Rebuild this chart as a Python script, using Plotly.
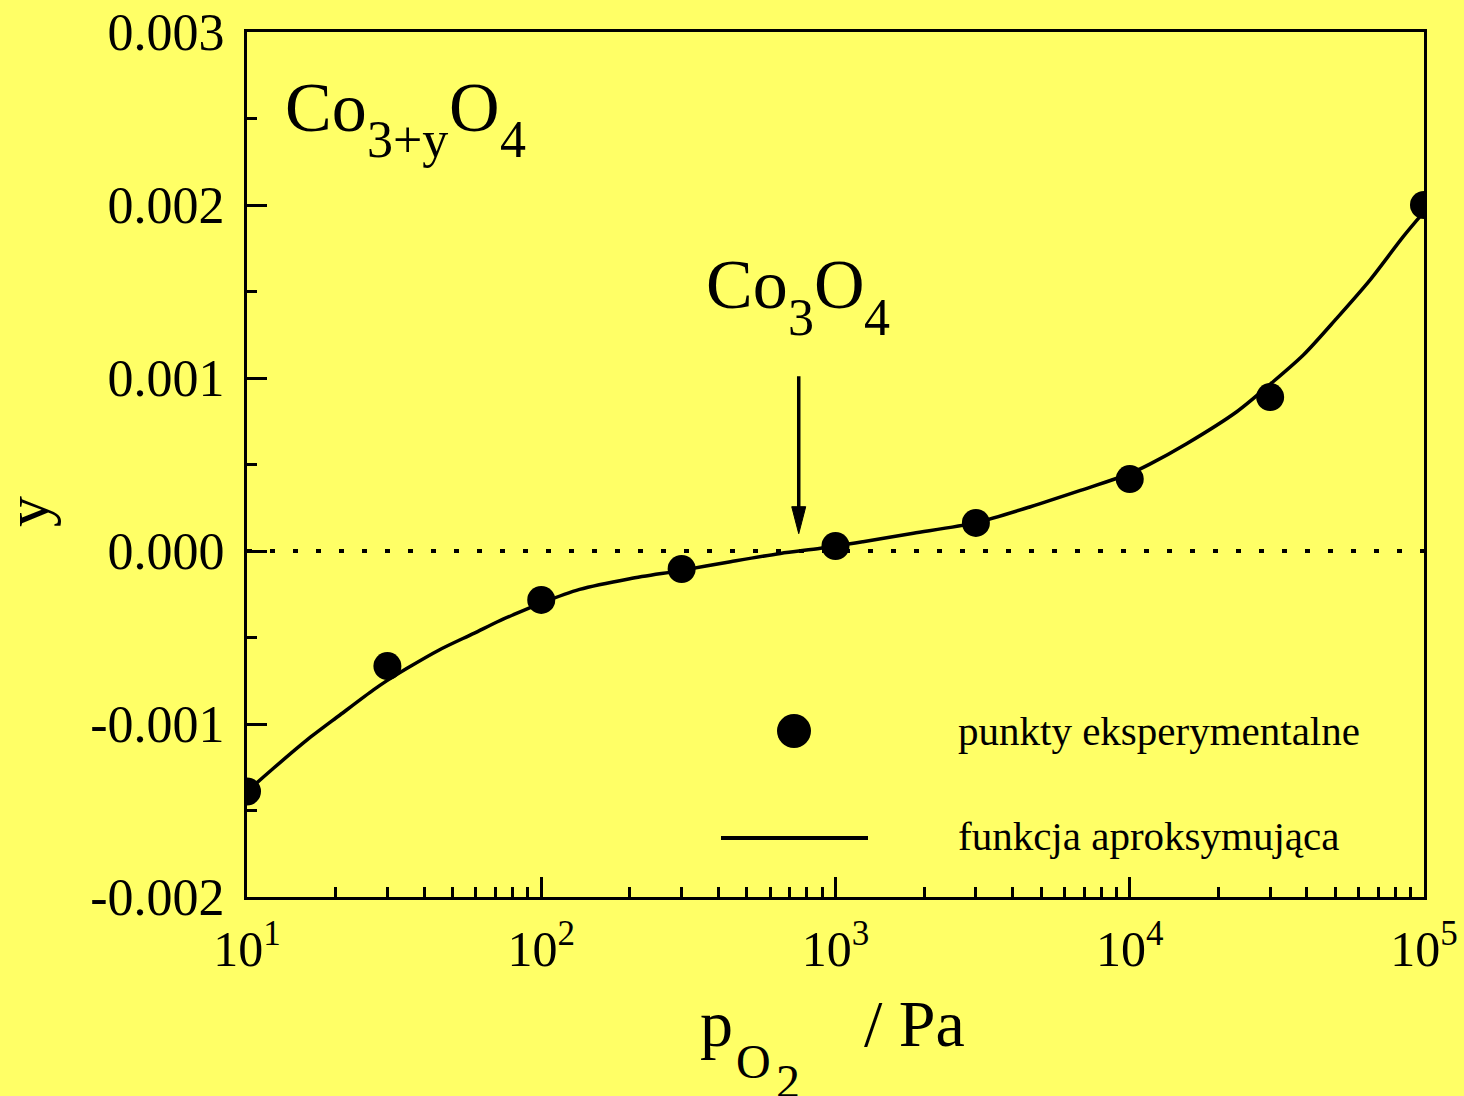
import numpy as np
import plotly.graph_objects as go

# Measured oxygen non-stoichiometry of Co3+yO4 vs. oxygen partial pressure
p_exp = [10, 30, 100, 300, 1000, 3000, 10000, 30000, 100000]
y_exp = [-0.00139, -0.000665, -0.000283, -0.000104, 0.000029,
         0.000162, 0.000416, 0.00089, 0.002]

# Fitted (approximating) function, sampled along the curve
p_fit = [10, 10.6, 12.3, 16, 20.7, 26.9, 30, 35, 45, 59, 71, 80, 100, 135,
         200, 300, 440, 650, 890, 1240, 1840, 3000, 4600, 6800, 10000, 11700,
         15600, 23100, 30000, 38900, 50500, 65500, 85000, 100000]
y_fit = [-0.001393, -0.001353, -0.001256, -0.001092, -0.000948, -0.000803,
         -0.000748, -0.000678, -0.000572, -0.000476, -0.000409, -0.000370,
         -0.000301, -0.000222, -0.000160, -0.000112, -0.000062, -0.000014,
         0.000016, 0.000054, 0.000102, 0.000164, 0.000256, 0.000350,
         0.000447, 0.000502, 0.000620, 0.000805, 0.000964, 0.001133,
         0.001345, 0.001566, 0.001817, 0.001960]

# Axis ticks
x_tickvals = [10, 100, 1000, 10000, 100000]
x_ticktext = ["10<sup>1</sup>", "10<sup>2</sup>", "10<sup>3</sup>",
              "10<sup>4</sup>", "10<sup>5</sup>"]
x_minor = [m * 10 ** e for e in range(1, 5) for m in range(2, 10)]
y_tickvals = [-0.002, -0.001, 0.0, 0.001, 0.002, 0.003]
y_ticktext = ["-0.002", "-0.001", "0.000", "0.001", "0.002", "0.003"]
y_minor = [-0.0015, -0.0005, 0.0005, 0.0015, 0.0025]

X_RANGE = [1, 5]          # log10 of pressure
Y_RANGE = [-0.002, 0.003]

# Stoichiometric point marked by the arrow
p_stoich = 750
arrow_top, arrow_tip = 0.00101, 0.0001

BG = "#FFFF66"
FONT = "Liberation Serif"

W, H = 1464, 1096
L, R, T, B = 247, 40, 32, 199
PW, PH = W - L - R, H - T - B


def px(x):
    """pixel column -> paper x"""
    return (x - L) / PW


def py(y):
    """pixel row -> paper y"""
    return (H - B - y) / PH


def data_to_paper_x(p):
    return (np.log10(p) - X_RANGE[0]) / (X_RANGE[1] - X_RANGE[0])


def data_to_paper_y(v):
    return (v - Y_RANGE[0]) / (Y_RANGE[1] - Y_RANGE[0])


fig = go.Figure()

fig.add_trace(go.Scatter(
    x=p_fit, y=y_fit, mode="lines",
    line=dict(color="black", width=3.5, shape="spline", smoothing=0.8),
    showlegend=False, hoverinfo="skip"))

fig.add_trace(go.Scatter(
    x=p_exp, y=y_exp, mode="markers",
    marker=dict(color="black", size=28, line=dict(width=0)),
    showlegend=False, cliponaxis=True))

# zero reference line
fig.add_shape(type="line", xref="paper", yref="y", x0=0, x1=1, y0=0, y1=0,
              line=dict(color="black", width=4, dash="5px,18px"))

# arrow pointing at the stoichiometric composition
ax_p = data_to_paper_x(p_stoich)
tip_y = data_to_paper_y(arrow_tip)
top_y = data_to_paper_y(arrow_top)
head_len = 27 / PH
head_hw = 7 / PW
fig.add_shape(type="line", xref="paper", yref="paper",
              x0=ax_p, x1=ax_p, y0=top_y, y1=tip_y + head_len * 0.8,
              line=dict(color="black", width=3.5))
fig.add_shape(type="path", xref="paper", yref="paper",
              path=(f"M {ax_p - head_hw},{tip_y + head_len} "
                    f"L {ax_p + head_hw},{tip_y + head_len} "
                    f"L {ax_p},{tip_y} Z"),
              fillcolor="black", line=dict(color="black", width=1))


def label(x, y, text, size, **kw):
    return dict(x=px(x), y=py(y), xref="paper", yref="paper", xanchor="left",
                yanchor="middle", showarrow=False, text=text,
                font=dict(family=FONT, size=size, color="black"), **kw)


annotations = [
    # Co3+yO4
    label(283, 108, "Co", 70),
    label(365, 139, "3+y", 52),
    label(447, 108, "O", 70),
    label(498, 139, "4", 52),
    # Co3O4
    label(704, 284, "Co", 70),
    label(786, 317, "3", 52),
    label(812, 284, "O", 70),
    label(862, 317, "4", 52),
    # legend texts
    label(956, 731, "punkty eksperymentalne", 41),
    label(956, 836, "funkcja aproksymująca", 41),
    # axis titles
    dict(x=px(27), y=py(512), xref="paper", yref="paper", xanchor="center",
         yanchor="middle", showarrow=False, text="y", textangle=-90,
         font=dict(family=FONT, size=62, color="black")),
    label(698, 1023, "p", 66),
    label(734, 1061, "O", 48),
    label(774, 1081, "2", 48),
    label(862, 1023, "/ Pa", 66),
]

# legend symbols
shapes = [
    dict(type="circle", xref="paper", yref="paper",
         x0=px(777), x1=px(811), y0=py(748), y1=py(714),
         fillcolor="black", line=dict(width=0)),
    dict(type="line", xref="paper", yref="paper",
         x0=px(721), x1=px(868), y0=py(838), y1=py(838),
         line=dict(color="black", width=4)),
]
for s in shapes:
    fig.add_shape(**s)

fig.update_layout(
    width=W, height=H,
    margin=dict(l=L, r=R, t=T, b=B, autoexpand=False),
    paper_bgcolor=BG, plot_bgcolor=BG,
    font=dict(family=FONT, color="black"),
    annotations=annotations,
    showlegend=False,
)

fig.update_xaxes(
    type="log", range=X_RANGE, showgrid=False, zeroline=False,
    showline=True, linecolor="black", linewidth=3, mirror=True,
    tickmode="array", tickvals=x_tickvals, ticktext=x_ticktext,
    ticks="inside", ticklen=20, tickwidth=3, tickcolor="black",
    ticklabelstandoff=6, automargin=False,
    tickfont=dict(family=FONT, size=50, color="black"),
    minor=dict(tickmode="array", tickvals=x_minor, ticks="inside",
               ticklen=10, tickwidth=3, tickcolor="black", showgrid=False),
)
fig.update_yaxes(
    range=Y_RANGE, showgrid=False, zeroline=False,
    showline=True, linecolor="black", linewidth=3, mirror=True,
    tickmode="array", tickvals=y_tickvals, ticktext=y_ticktext,
    ticks="inside", ticklen=20, tickwidth=3, tickcolor="black",
    ticklabelstandoff=9, automargin=False,
    tickfont=dict(family=FONT, size=52, color="black"),
    minor=dict(tickmode="array", tickvals=y_minor, ticks="inside",
               ticklen=10, tickwidth=3, tickcolor="black", showgrid=False),
)

fig.write_html("out.html")
